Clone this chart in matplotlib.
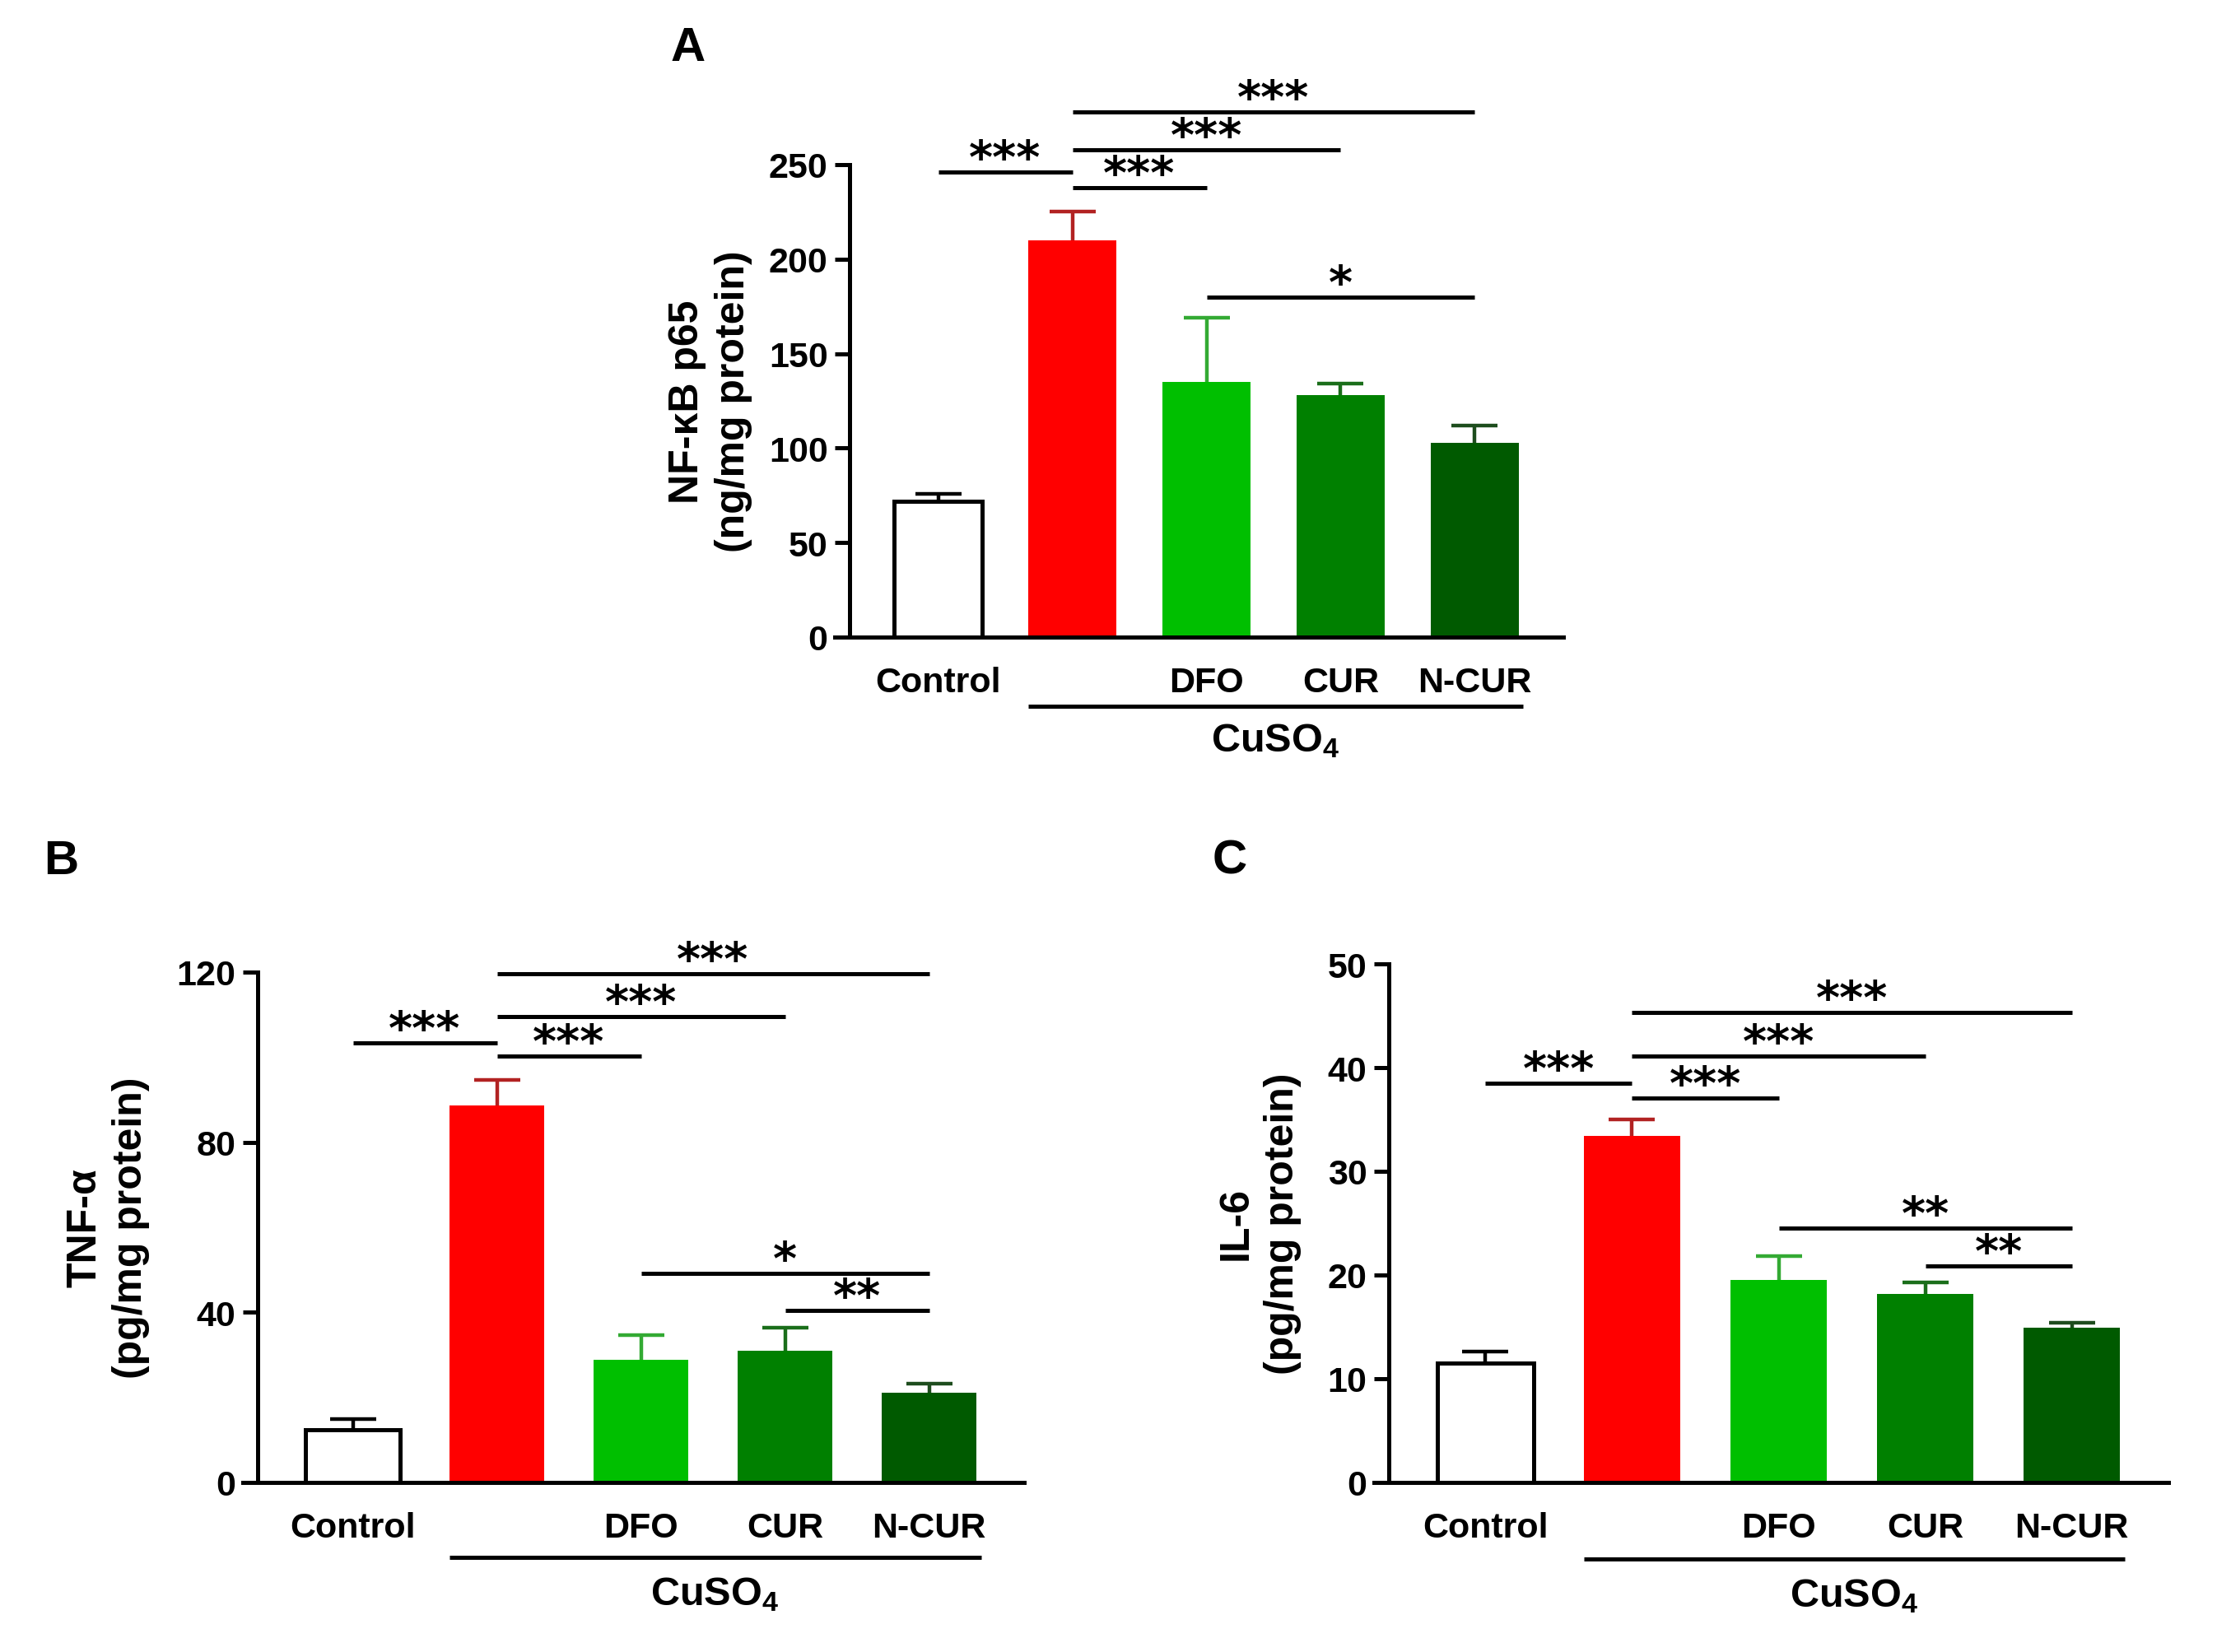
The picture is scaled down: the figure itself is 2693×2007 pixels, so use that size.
import matplotlib
matplotlib.use('Agg')
import matplotlib.pyplot as plt
import numpy as np

plt.rcParams['font.family'] = ['Liberation Sans', 'DejaVu Sans']
plt.rcParams['font.weight'] = 'bold'
plt.rcParams['mathtext.fontset'] = 'custom'
plt.rcParams['mathtext.rm'] = 'Liberation Sans:bold'
plt.rcParams['mathtext.it'] = 'Liberation Sans:bold'
plt.rcParams['mathtext.bf'] = 'Liberation Sans:bold'
plt.rcParams['mathtext.default'] = 'rm'

# ---------------- data ----------------
groups = ['Control', '', 'DFO', 'CUR', 'N-CUR']
bar_colors = ['white', '#FF0000', '#00BF00', '#008000', '#005A00']
err_colors = ['black', '#B22222', '#33AA33', '#1A6E1A', '#1E4D1E']

nfkb_mean = [72, 210, 135, 128, 103]
nfkb_err = [4, 15, 34, 6, 9]
tnf_mean = [12.4, 88.6, 28.9, 31.0, 21.1]
tnf_err = [2.5, 6.0, 5.8, 5.3, 2.2]
il6_mean = [11.5, 33.4, 19.5, 18.2, 14.9]
il6_err = [1.1, 1.6, 2.3, 1.1, 0.5]

nfkb_ticks = [0, 50, 100, 150, 200, 250]
tnf_ticks = [0, 40, 80, 120]
il6_ticks = [0, 10, 20, 30, 40, 50]

# significance brackets: (group i, group j, height, label)
nfkb_sig = [(0, 1, 246, '***'), (1, 2, 238, '***'), (1, 3, 258, '***'),
            (1, 4, 278, '***'), (2, 4, 180, '*')]
tnf_sig = [(0, 1, 103.3, '***'), (1, 2, 100.2, '***'), (1, 3, 109.6, '***'),
           (1, 4, 119.6, '***'), (2, 4, 49.2, '*'), (3, 4, 40.4, '**')]
il6_sig = [(0, 1, 38.5, '***'), (1, 2, 37.1, '***'), (1, 3, 41.1, '***'),
           (1, 4, 45.3, '***'), (2, 4, 24.5, '**'), (3, 4, 20.9, '**')]

W, H = 2693, 2008
fig = plt.figure(figsize=(W / 100, H / 100), dpi=100)

LW = 3.6
BAR_W = 0.66
XL = (-0.66, 4.66)


def panel(rect, means, errs, ticks, ylabel, sig, ylabel_x):
    ax = fig.add_axes(rect)
    x = np.arange(len(groups))
    for i in range(len(groups)):
        _, caps, _ = ax.errorbar(x[i], means[i], yerr=[[0], [errs[i]]],
                                 fmt='none', ecolor=err_colors[i],
                                 elinewidth=3.2, capsize=20, capthick=3.2,
                                 zorder=1)
        for c in caps:
            yd = np.asarray(c.get_ydata(), dtype=float)
            if np.allclose(yd, means[i]):
                c.set_visible(False)
    ax.bar(x, means, width=BAR_W, color=bar_colors,
           edgecolor=['black', 'none', 'none', 'none', 'none'],
           linewidth=[LW, 0, 0, 0, 0], zorder=2)
    ax.set_xlim(*XL)
    ax.set_ylim(ticks[0], ticks[-1])
    ax.set_yticks(ticks)
    ax.set_xticks(x)
    ax.set_xticklabels(groups, fontsize=31, fontweight='bold')
    ax.set_yticklabels([str(t) for t in ticks], fontsize=31, fontweight='bold')
    for s in ['top', 'right']:
        ax.spines[s].set_visible(False)
    for s in ['left', 'bottom']:
        ax.spines[s].set_linewidth(LW)
    ax_px = rect[2] * W
    ext = 18 / (ax_px / (XL[1] - XL[0]))
    ax.spines['bottom'].set_bounds(XL[0] - ext, XL[1])
    ax.tick_params(axis='x', length=0, pad=25)
    ax.tick_params(axis='y', direction='out', length=13, width=LW, pad=6)

    for (i, j, y, lab) in sig:
        ax.plot([x[i], x[j]], [y, y], color='black', lw=LW,
                solid_capstyle='butt', clip_on=False)
        ax.text((x[i] + x[j]) / 2, y, lab, ha='center', va='baseline',
                fontsize=40, family='DejaVu Sans', fontweight='bold',
                clip_on=False)

    tr = ax.get_xaxis_transform()
    x0 = x[1] - BAR_W / 2
    x1 = x[4] + BAR_W / 2 + 0.03
    ax.plot([x0, x1], [-0.147, -0.147], transform=tr, color='black', lw=LW,
            clip_on=False, solid_capstyle='butt')
    ax.text((x0 + x1) / 2, -0.218, 'CuSO$_4$', transform=tr, ha='center',
            va='center', fontsize=35, fontweight='bold')

    ax.text(ylabel_x, 0.5, ylabel, transform=ax.transAxes, rotation=90,
            ha='center', va='center', fontsize=36, fontweight='bold',
            linespacing=1.28)
    return ax


axA = panel([1032 / W, 1 - 775 / H, 867 / W, 574 / H], nfkb_mean, nfkb_err,
            nfkb_ticks, 'NF-κB p65\n(ng/mg protein)', nfkb_sig, -0.195)
axB = panel([313 / W, 1 - 1802 / H, 931 / W, 620 / H], tnf_mean, tnf_err,
            tnf_ticks, 'TNF-α\n(pg/mg protein)', tnf_sig, -0.195)
axC = panel([1687 / W, 1 - 1802 / H, 947 / W, 630 / H], il6_mean, il6_err,
            il6_ticks, 'IL-6\n(pg/mg protein)', il6_sig, -0.166)

fig.text(836 / W, 1 - 59 / H, 'A', ha='center', va='center', fontsize=42,
         fontweight='bold')
fig.text(74 / W, 1 - 1047 / H, 'B', ha='center', va='center', fontsize=42,
         fontweight='bold')
fig.text(1494 / W, 1 - 1047 / H, 'C', ha='center', va='center', fontsize=42,
         fontweight='bold')

fig.savefig('out.png', dpi=100, facecolor='white')
